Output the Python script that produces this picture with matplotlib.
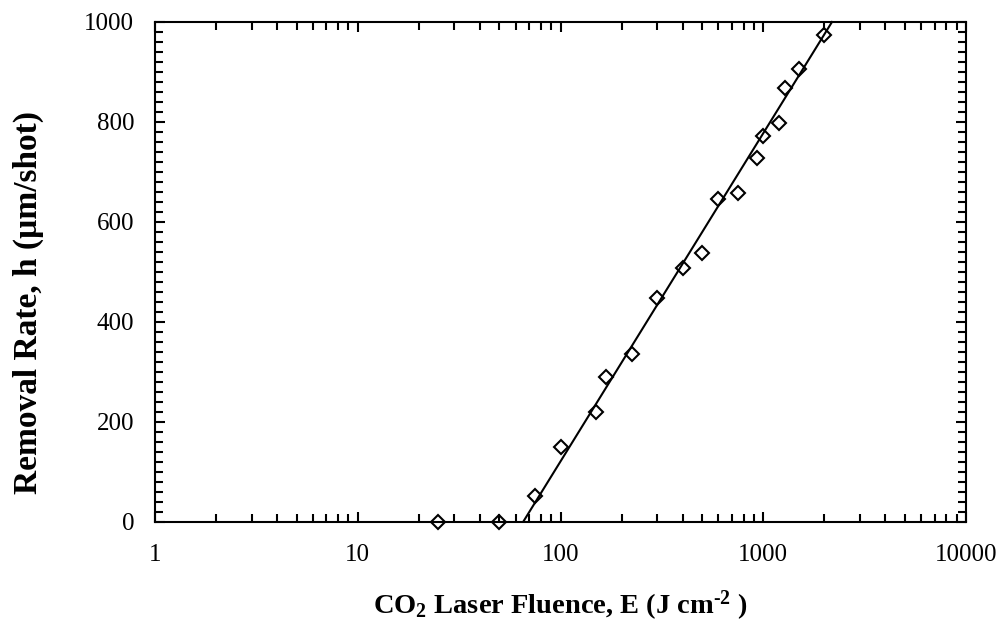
import numpy as np
import matplotlib
matplotlib.use("Agg")
import matplotlib.pyplot as plt
from matplotlib.ticker import MultipleLocator, LogLocator, FixedLocator, FixedFormatter, NullFormatter

plt.rcParams['font.family'] = ['Liberation Serif', 'DejaVu Serif']
plt.rcParams['mathtext.fontset'] = 'custom'
plt.rcParams['mathtext.rm'] = 'Liberation Serif'
plt.rcParams['mathtext.bf'] = 'Liberation Serif:bold'
plt.rcParams['mathtext.it'] = 'Liberation Serif:italic'

# Data
fluence = [25, 50, 75, 100, 150, 167, 225, 300, 400, 500, 600, 750, 930, 1000, 1200, 1280, 1500, 2000]
removal = [0, 0, 52, 149, 220, 290, 335, 448, 507, 537, 645, 658, 728, 771, 797, 868, 905, 973]

# Fit line parameters: h = slope * log10(E / E_th)
fit_threshold = 65.6
fit_slope = 657.0

x_ticks = [1, 10, 100, 1000, 10000]
x_tick_labels = ["1", "10", "100", "1000", "10000"]
y_ticks = [0, 200, 400, 600, 800, 1000]

fig = plt.figure(figsize=(10.08, 6.32), dpi=100)
ax = fig.add_axes([155/1008, 1 - 521.5/632, (966-155)/1008, (521.5-22)/632])

# fit line
E_end = fit_threshold * 10 ** (1000 / fit_slope)
E_fit = np.logspace(np.log10(fit_threshold), np.log10(E_end), 200)
h_fit = fit_slope * np.log10(E_fit / fit_threshold)
ax.plot(E_fit, h_fit, color='black', lw=1.5, zorder=2, clip_on=False)

ax.plot(fluence, removal, linestyle='none', marker='D', ms=7.5, mfc='none',
        mec='black', mew=1.5, zorder=3, clip_on=False)

ax.set_xscale('log')
ax.set_xlim(1, 10000)
ax.set_ylim(0, 1000)

ax.xaxis.set_major_locator(FixedLocator(x_ticks))
ax.xaxis.set_major_formatter(FixedFormatter(x_tick_labels))
ax.xaxis.set_minor_locator(LogLocator(base=10, subs=np.arange(2, 10), numticks=20))
ax.xaxis.set_minor_formatter(NullFormatter())
ax.yaxis.set_major_locator(FixedLocator(y_ticks))
ax.yaxis.set_minor_locator(MultipleLocator(20))

for s in ax.spines.values():
    s.set_linewidth(1.5)

ax.tick_params(which='both', direction='in', top=True, right=True, width=1.5)
ax.tick_params(which='major', length=7)
ax.tick_params(which='minor', length=5.5)
ax.tick_params(axis='x', which='major', labelsize=18, pad=16)
ax.tick_params(axis='y', which='major', labelsize=18, pad=15)

ax.set_xlabel("CO$_{\\mathbf{2}}$ Laser Fluence, E (J cm$^{\\mathbf{\u2010 2}}$ )", fontsize=20.5, fontweight='bold')
ax.set_ylabel("Removal Rate, h (µm/shot)", fontsize=24, fontweight='bold')
ax.xaxis.set_label_coords(0.5, -(606 - 521.5) / 499.5, transform=ax.transAxes)
ax.yaxis.set_label_coords((28 - 155) / 811, (521.5 - 302) / 499.5, transform=ax.transAxes)
ax.xaxis.label.set_va('center')
ax.yaxis.label.set_va('center')

fig.savefig("out.png", dpi=100)
